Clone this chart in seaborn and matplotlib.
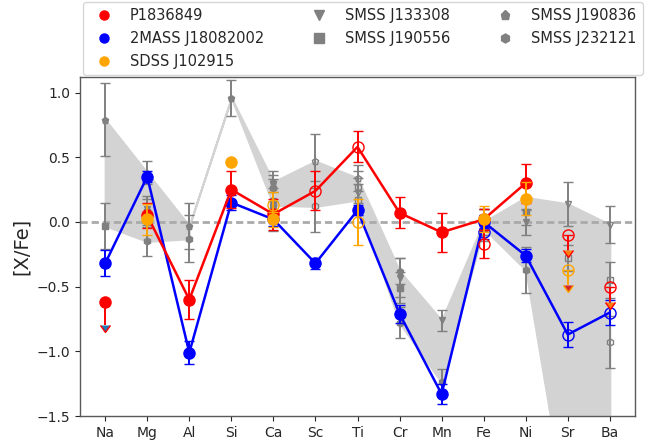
import numpy as np
import pandas as pd
import matplotlib.pyplot as plt
import seaborn as sns
from matplotlib.lines import Line2D

nan = np.nan

elements = ['Na', 'Mg', 'Al', 'Si', 'Ca', 'Sc', 'Ti', 'Cr', 'Mn', 'Fe', 'Ni', 'Sr', 'Ba']

# P1836849 (second Fe entry = Fe II)
red_el = ['Na', 'Mg', 'Al', 'Si', 'Ca', 'Sc', 'Ti', 'Cr', 'Mn', 'Fe', 'Fe', 'Ni', 'Sr', 'Ba']
red_val = [-0.62, 0.05, -0.60, 0.25, 0.06, 0.24, 0.58, 0.07, -0.08, 0.02, -0.17, 0.30, -0.10, -0.50]
red_err = [0.18, 0.10, 0.15, 0.14, 0.12, 0.15, 0.12, 0.12, 0.15, 0.08, 0.11, 0.15, 0.12, 0.12]
red_open = [0, 0, 0, 0, 0, 1, 1, 0, 0, 0, 1, 0, 1, 1]
red_lim = [1, 0, 0, 0, 0, 0, 0, 0, 0, 0, 0, 0, 1, 1]

# 2MASS J18082002
blue_el = ['Na', 'Mg', 'Al', 'Si', 'Ca', 'Sc', 'Ti', 'Cr', 'Mn', 'Fe', 'Fe', 'Ni', 'Sr', 'Ba']
blue_val = [-0.32, 0.35, -1.01, 0.15, 0.02, -0.32, 0.09, -0.71, -1.33, 0.00, -0.08, -0.26, -0.87, -0.70]
blue_err = [0.10, 0.04, 0.09, 0.06, 0.05, 0.04, 0.04, 0.07, 0.08, 0.05, 0.05, 0.05, 0.10, 0.10]
blue_open = [0, 0, 0, 0, 0, 0, 0, 0, 0, 0, 1, 0, 1, 1]
blue_lim = [0] * 14

# SDSS J102915
orange_el = ['Mg', 'Si', 'Ca', 'Ca', 'Ti', 'Fe', 'Ni', 'Sr']
orange_val = [0.02, 0.46, 0.02, 0.13, 0.00, 0.02, 0.18, -0.37]
orange_err = [0.12, nan, 0.06, 0.10, 0.18, 0.10, 0.13, 0.12]
orange_open = [0, 0, 0, 1, 1, 0, 0, 1]
orange_lim = [0, 0, 0, 0, 0, 0, 0, 1]

# comparison stars, one value per element
gray_names = ['SMSS J133308', 'SMSS J190556', 'SMSS J190836', 'SMSS J232121']
gray_markers = ['v', 's', 'p', 'h']
j133308_val = [nan, 0.10, nan, nan, 0.16, nan, 0.22, -0.43, -0.76, 0.00, 0.00, 0.14, -0.02]
j133308_err = [nan, 0.10, nan, nan, 0.10, nan, 0.12, 0.15, 0.08, 0.10, 0.10, 0.17, 0.14]
j190556_val = [-0.03, 0.08, nan, nan, 0.13, nan, 0.17, -0.51, nan, -0.05, 0.08, -0.28, -0.45]
j190556_err = [0.18, 0.10, nan, nan, 0.20, nan, 0.12, 0.12, nan, 0.10, 0.10, 0.10, 0.14]
j190836_val = [0.79, 0.38, -0.03, 0.96, 0.31, 0.47, 0.34, -0.38, nan, 0.00, 0.19, -2.30, -1.80]
j190836_err = [0.28, 0.09, 0.18, 0.14, 0.08, 0.21, 0.10, 0.10, nan, 0.10, 0.10, 0.20, 0.20]
j232121_val = [nan, -0.15, -0.13, nan, 0.26, 0.12, 0.27, -0.78, -1.24, 0.00, -0.37, nan, -0.93]
j232121_err = [nan, 0.11, 0.18, nan, 0.10, 0.20, 0.12, 0.12, 0.10, 0.10, 0.18, nan, 0.20]
gray_open_el = ['Sc', 'Ti', 'Sr', 'Ba']

gray_vals = [j133308_val, j190556_val, j190836_val, j232121_val]
gray_errs = [j133308_err, j190556_err, j190836_err, j232121_err]


def make_df(el, val, err, hollow, lim):
    df = pd.DataFrame({'el': el, 'val': val, 'err': err, 'hollow': hollow, 'lim': lim})
    df['x'] = df['el'].map({e: i for i, e in enumerate(elements)})
    return df


def draw_points(ax, df, color, marker='o', ms=8, z=3):
    for hollow in (0, 1):
        sub = df[df['hollow'] == hollow]
        if sub.empty:
            continue
        ax.errorbar(sub['x'], sub['val'], yerr=sub['err'].values,
                    uplims=sub['lim'].astype(bool).values,
                    fmt=marker, ms=ms, mec=color, mew=1.0,
                    mfc='none' if hollow else color,
                    ecolor=color, elinewidth=1.4, capsize=3.5, capthick=1.4,
                    zorder=z)


sns.set_style('ticks')
plt.rcParams['font.family'] = ['DejaVu Sans']

fig = plt.figure(figsize=(6.5, 4.45), dpi=100)
ax = fig.add_axes([0.123, 0.065, 0.854, 0.762])

x = np.arange(len(elements))

# shaded range of the comparison stars
band_lo = np.nanmin(np.array(gray_vals), axis=0)
band_hi = np.nanmax(np.array(gray_vals), axis=0)
k = elements.index('Al')
fill_kw = dict(color='lightgray', edgecolor='lightgray', linewidth=1.5, zorder=0)
ax.fill_between(x[:k + 1], band_lo[:k + 1], band_hi[:k + 1], **fill_kw)
lo2 = band_lo.copy()
lo2[k] = band_hi[k]
ax.fill_between(x[k:], lo2[k:], band_hi[k:], **fill_kw)

ax.axhline(0, color='#aaaaaa', ls='--', lw=2.0, dashes=(2.6, 1.4), zorder=1)

# comparison stars
for name, mk, vals, errs in zip(gray_names, gray_markers, gray_vals, gray_errs):
    df = make_df(elements, vals, errs, [int(e in gray_open_el) for e in elements], [0] * len(elements))
    df = df.dropna(subset=['val'])
    draw_points(ax, df, 'gray', marker=mk, ms=5, z=2)

red = make_df(red_el, red_val, red_err, red_open, red_lim)
blue = make_df(blue_el, blue_val, blue_err, blue_open, blue_lim)
orange = make_df(orange_el, orange_val, orange_err, orange_open, orange_lim)

blue_line = blue[blue['lim'] == 0].drop_duplicates('el')
red_line = red[red['lim'] == 0].drop_duplicates('el')
sns.lineplot(x=blue_line['x'], y=blue_line['val'], sort=False, estimator=None,
             color='blue', lw=1.8, ax=ax, zorder=3)
sns.lineplot(x=red_line['x'], y=red_line['val'], sort=False, estimator=None,
             color='red', lw=1.8, ax=ax, zorder=4)

draw_points(ax, blue, 'blue', z=3)
draw_points(ax, red, 'red', z=4)
draw_points(ax, orange, 'orange', z=5)

ax.set_xlim(-0.6, 12.6)
ax.set_ylim(-1.5, 1.12)
ax.set_xticks(x)
ax.set_xticklabels(elements, fontsize=10)
ax.set_yticks([-1.5, -1.0, -0.5, 0.0, 0.5, 1.0])
ax.tick_params(axis='y', labelsize=10)
ax.set_xlabel('')
ax.set_ylabel('[X/Fe]', fontsize=14)
for sp in ax.spines.values():
    sp.set_color('0.35')
    sp.set_linewidth(1.0)

handles = [
    Line2D([], [], ls='none', marker='o', color='red', ms=6.5),
    Line2D([], [], ls='none', marker='o', color='blue', ms=6.5),
    Line2D([], [], ls='none', marker='o', color='orange', ms=6.5),
] + [Line2D([], [], ls='none', marker=m, color='gray', ms=6.5) for m in gray_markers]
labels = ['P1836849', '2MASS J18082002', 'SDSS J102915'] + gray_names
ax.legend(handles, labels, loc='lower center', bbox_to_anchor=(0.51, 1.0), ncol=3,
          fontsize=10.5, columnspacing=2.75, labelspacing=0.55, borderaxespad=0.15,
          frameon=True)

fig.savefig('out.png', dpi=100)
